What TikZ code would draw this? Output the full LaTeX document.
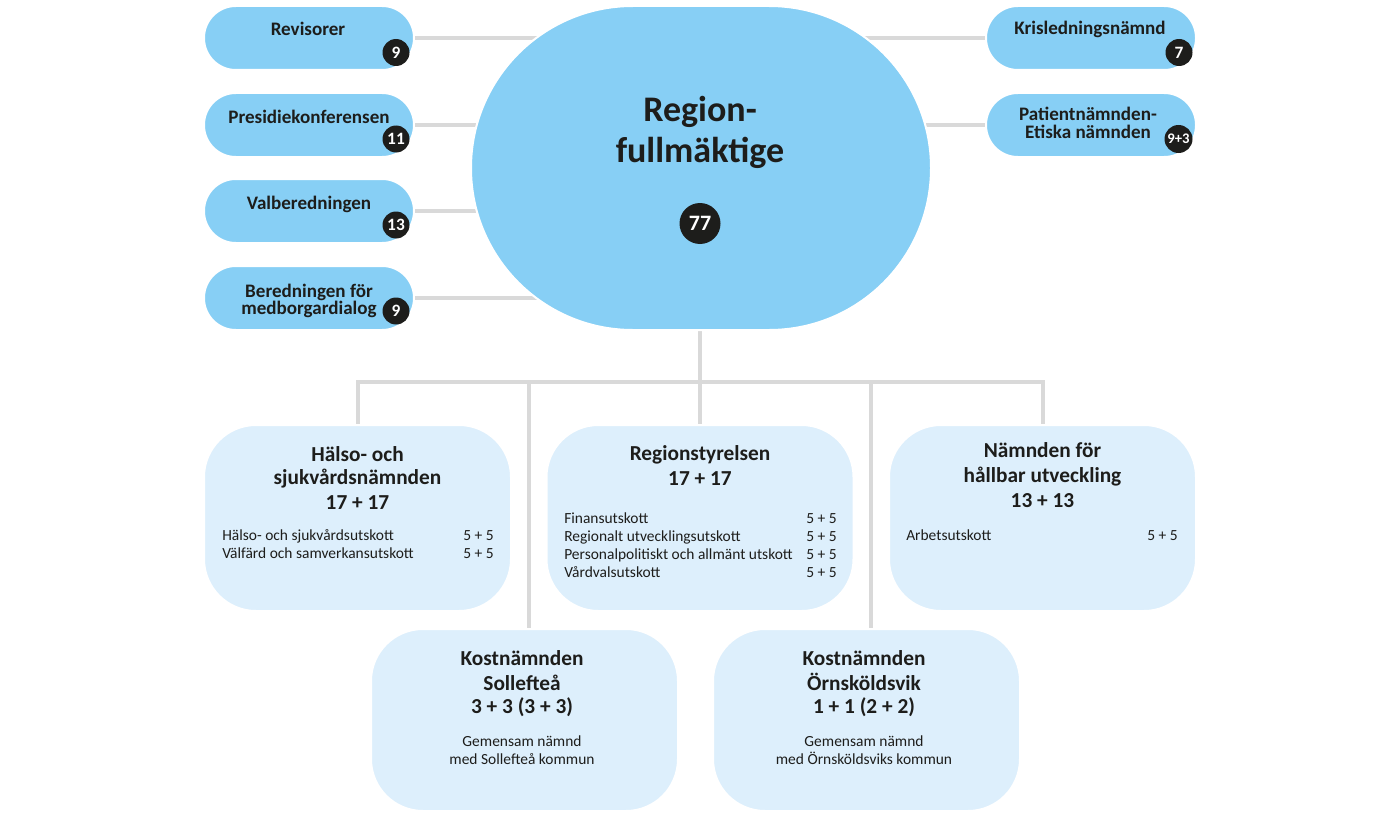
\documentclass[tikz,border=0pt]{standalone}
\usepackage{fontspec}
\setmainfont{Carlito}
\usetikzlibrary{backgrounds}
\definecolor{pillblue}{RGB}{135,207,245}
\definecolor{boxblue}{RGB}{221,239,252}
\definecolor{linegray}{RGB}{217,217,217}
\definecolor{ink}{RGB}{29,29,27}
\newcommand\fPill{\bfseries\fontsize{14.3pt}{16pt}\selectfont}
\newcommand\fTitle{\bfseries\fontsize{16pt}{18pt}\selectfont}
\newcommand\fBig{\bfseries\fontsize{27pt}{30pt}\selectfont}
\newcommand\fSmall{\fontsize{11.6pt}{13.5pt}\selectfont}
\newcommand\fBadge{\bfseries\fontsize{13pt}{14pt}\selectfont}
\newcommand\fBadgeSm{\bfseries\fontsize{11pt}{12pt}\selectfont}
\newcommand\fBadgeBig{\bfseries\fontsize{16.5pt}{18pt}\selectfont}
\begin{document}
\begin{tikzpicture}[x=0.75pt,y=-0.75pt,
  pill/.style={fill=pillblue, draw=white, line width=1.5pt, rounded corners=23.9pt, minimum width=157.5pt, minimum height=48pt, inner sep=0pt},
  bigshape/.style={fill=pillblue, draw=white, line width=1.5pt, rounded corners=121.4pt, minimum width=345pt, minimum height=243pt, inner sep=0pt},
  panel/.style={fill=boxblue, draw=white, line width=1.5pt, rounded corners=39pt, minimum width=230.25pt, minimum height=139.5pt, inner sep=0pt},
  panelb/.style={panel, minimum height=136.5pt},
  badge/.style={circle, fill=ink, text=white, minimum size=20.25pt, inner sep=0pt, font=\fBadge},
  conn/.style={draw=linegray, line width=3pt},
  ptxt/.style={anchor=base, inner sep=0pt, text=ink, font=\fPill},
  ttxt/.style={anchor=base, inner sep=0pt, text=ink, font=\fTitle},
  btxt/.style={anchor=base, inner sep=0pt, text=ink, font=\fBig},
  stxt/.style={anchor=base, inner sep=0pt, text=ink, font=\fSmall},
  lrow/.style={stxt, anchor=base west},
  rrow/.style={stxt, anchor=base east},
]
\useasboundingbox (0,0) rectangle (1400,817);

% left pills
\node[pill] (rev) at (309,38) {};
\node[ptxt] (revt) at (308,36) {Revisorer};
\node[badge] (revb) at (396,52.5) {9};
\node[pill] (pres) at (309,125) {};
\node[ptxt] (prest) at (309,123) {Presidiekonferensen};
\node[badge] (presb) at (396,139) {11};
\node[pill] (val) at (309,211) {};
\node[ptxt] (valt) at (309,209) {Valberedningen};
\node[badge] (valb) at (396,225) {13};
\node[pill] (ber) at (309,298) {};
\node[ptxt] (bert1) at (309,297) {Beredningen för};
\node[ptxt] (bert2) at (309,314) {medborgardialog};
\node[badge] (berb) at (396,311) {9};

% right pills
\node[pill] (kris) at (1091,38) {};
\node[ptxt] (krist) at (1090,35) {Krisledningsnämnd};
\node[badge] (krisb) at (1179,52.5) {7};
\node[pill] (pat) at (1091,125) {};
\node[ptxt] (patt1) at (1088,120) {Patientnämnden-};
\node[ptxt] (patt2) at (1088,138) {Etiska nämnden};
\node[badge, minimum size=21pt, font=\fBadgeSm] (patb) at (1178.5,139) {9+3};

% central shape
\node[bigshape] (rf) at (701,168) {};
\node[btxt] (rft1) at (700,122) {Region-};
\node[btxt] (rft2) at (700,162) {fullmäktige};
\node[badge, minimum size=30.75pt, font=\fBadgeBig] (rfb) at (700,223.5) {77};

% first row panels
\node[panel] (hs) at (357.5,518) {};
\node[ttxt] (hst1) at (357.5,461) {Hälso- och};
\node[ttxt] (hst2) at (357.5,484.5) {sjukvårdsnämnden};
\node[ttxt] (hst3) at (357.5,509) {17 + 17};
\node[lrow] (hsr1) at (222,540) {Hälso- och sjukvårdsutskott};
\node[rrow] (hsn1) at (494,540) {5 + 5};
\node[lrow] (hsr2) at (222,558) {Välfärd och samverkansutskott};
\node[rrow] (hsn2) at (494,558) {5 + 5};

\node[panel] (rs) at (700,518) {};
\node[ttxt] (rst1) at (700,460) {Regionstyrelsen};
\node[ttxt] (rst2) at (700,485) {17 + 17};
\node[lrow] (rsr1) at (564,523) {Finansutskott};
\node[rrow] (rsn1) at (837,523) {5 + 5};
\node[lrow] (rsr2) at (564,541) {Regionalt utvecklingsutskott};
\node[rrow] (rsn2) at (837,541) {5 + 5};
\node[lrow] (rsr3) at (564,559) {Personalpolitiskt och allmänt utskott};
\node[rrow] (rsn3) at (837,559) {5 + 5};
\node[lrow] (rsr4) at (564,577) {Vårdvalsutskott};
\node[rrow] (rsn4) at (837,577) {5 + 5};

\node[panel] (nh) at (1042.5,518) {};
\node[ttxt] (nht1) at (1042.5,457) {Nämnden för};
\node[ttxt] (nht2) at (1042.5,482) {hållbar utveckling};
\node[ttxt] (nht3) at (1042.5,507) {13 + 13};
\node[lrow] (nhr1) at (906,540) {Arbetsutskott};
\node[rrow] (nhn1) at (1178,540) {5 + 5};

% second row panels
\node[panelb] (ks) at (524.5,720) {};
\node[ttxt] (kst1) at (522,665) {Kostnämnden};
\node[ttxt] (kst2) at (522,690) {Sollefteå};
\node[ttxt] (kst3) at (522,713) {3 + 3 (3 + 3)};
\node[stxt] (kst4) at (522,746) {Gemensam nämnd};
\node[stxt] (kst5) at (522,764) {med Sollefteå kommun};

\node[panelb] (ko) at (866.5,720) {};
\node[ttxt] (kot1) at (864,665) {Kostnämnden};
\node[ttxt] (kot2) at (864,690) {Örnsköldsvik};
\node[ttxt] (kot3) at (864,713) {1 + 1 (2 + 2)};
\node[stxt] (kot4) at (864,746) {Gemensam nämnd};
\node[stxt] (kot5) at (864,764) {med Örnsköldsviks kommun};

\coordinate (bus) at (700,382);
\coordinate (dropL) at (529,382);
\coordinate (dropR) at (871,382);

\begin{scope}[on background layer]
\draw[conn] (rev.east) -- (rev.east -| rf.center);
\draw[conn] (pres.east) -- (pres.east -| rf.center);
\draw[conn] (val.east) -- (val.east -| rf.center);
\draw[conn] (ber.east) -- (ber.east -| rf.center);
\draw[conn] (kris.west) -- (kris.west -| rf.center);
\draw[conn] (pat.west) -- (pat.west -| rf.center);
\draw[conn] (rf.south -| bus) -- (bus);
\draw[conn] (hs.north) |- (bus) -| (nh.north);
\draw[conn] (rs.north -| bus) -- (bus);
\draw[conn] (dropL) -- (dropL |- ks.north);
\draw[conn] (dropR) -- (dropR |- ko.north);
\end{scope}
\end{tikzpicture}
\end{document}
